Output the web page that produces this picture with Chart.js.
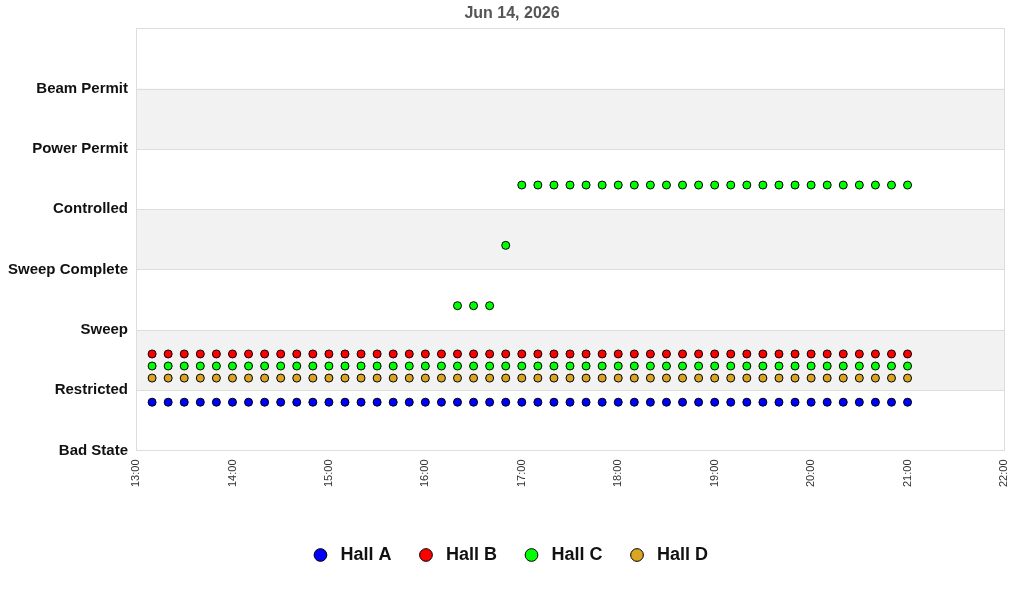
<!DOCTYPE html>
<html>
<head>
<meta charset="utf-8">
<script src="https://cdn.jsdelivr.net/npm/chart.js@4/dist/chart.umd.min.js"></script>
<style>
  html, body { margin: 0; padding: 0; background: #fff; }
  #wrap { width: 1024px; height: 600px; }
</style>
</head>
<body>
<div id="wrap"><canvas id="chart"></canvas></div>
<script>
// state names on the y axis (index = value)
const stateLabels = ["Bad State", "Restricted", "Sweep", "Sweep Complete", "Controlled", "Power Permit", "Beam Permit", ""];

// sample times (every 10 minutes)
const times = [
  "13:10", "13:20", "13:30", "13:40", "13:50", "14:00",
  "14:10", "14:20", "14:30", "14:40", "14:50", "15:00",
  "15:10", "15:20", "15:30", "15:40", "15:50", "16:00",
  "16:10", "16:20", "16:30", "16:40", "16:50", "17:00",
  "17:10", "17:20", "17:30", "17:40", "17:50", "18:00",
  "18:10", "18:20", "18:30", "18:40", "18:50", "19:00",
  "19:10", "19:20", "19:30", "19:40", "19:50", "20:00",
  "20:10", "20:20", "20:30", "20:40", "20:50", "21:00"
];

const hallA = [
  0.8, 0.8, 0.8, 0.8, 0.8, 0.8, 0.8, 0.8, 0.8, 0.8, 0.8, 0.8,
  0.8, 0.8, 0.8, 0.8, 0.8, 0.8, 0.8, 0.8, 0.8, 0.8, 0.8, 0.8,
  0.8, 0.8, 0.8, 0.8, 0.8, 0.8, 0.8, 0.8, 0.8, 0.8, 0.8, 0.8,
  0.8, 0.8, 0.8, 0.8, 0.8, 0.8, 0.8, 0.8, 0.8, 0.8, 0.8, 0.8
];
const hallB = [
  1.6, 1.6, 1.6, 1.6, 1.6, 1.6, 1.6, 1.6, 1.6, 1.6, 1.6, 1.6,
  1.6, 1.6, 1.6, 1.6, 1.6, 1.6, 1.6, 1.6, 1.6, 1.6, 1.6, 1.6,
  1.6, 1.6, 1.6, 1.6, 1.6, 1.6, 1.6, 1.6, 1.6, 1.6, 1.6, 1.6,
  1.6, 1.6, 1.6, 1.6, 1.6, 1.6, 1.6, 1.6, 1.6, 1.6, 1.6, 1.6
];
const hallC = [
  1.4, 1.4, 1.4, 1.4, 1.4, 1.4, 1.4, 1.4, 1.4, 1.4, 1.4, 1.4,
  1.4, 1.4, 1.4, 1.4, 1.4, 1.4, 1.4, 1.4, 1.4, 1.4, 1.4, 1.4,
  1.4, 1.4, 1.4, 1.4, 1.4, 1.4, 1.4, 1.4, 1.4, 1.4, 1.4, 1.4,
  1.4, 1.4, 1.4, 1.4, 1.4, 1.4, 1.4, 1.4, 1.4, 1.4, 1.4, 1.4
];
const hallD = [
  1.2, 1.2, 1.2, 1.2, 1.2, 1.2, 1.2, 1.2, 1.2, 1.2, 1.2, 1.2,
  1.2, 1.2, 1.2, 1.2, 1.2, 1.2, 1.2, 1.2, 1.2, 1.2, 1.2, 1.2,
  1.2, 1.2, 1.2, 1.2, 1.2, 1.2, 1.2, 1.2, 1.2, 1.2, 1.2, 1.2,
  1.2, 1.2, 1.2, 1.2, 1.2, 1.2, 1.2, 1.2, 1.2, 1.2, 1.2, 1.2
];

// second Hall C trace (sweep -> controlled)
const hallCUpperTimes = [
  "16:20", "16:30", "16:40", "16:50", "17:00",
  "17:10", "17:20", "17:30", "17:40", "17:50", "18:00",
  "18:10", "18:20", "18:30", "18:40", "18:50", "19:00",
  "19:10", "19:20", "19:30", "19:40", "19:50", "20:00",
  "20:10", "20:20", "20:30", "20:40", "20:50", "21:00"
];
const hallCUpper = [
  2.4, 2.4, 2.4, 3.4, 4.4,
  4.4, 4.4, 4.4, 4.4, 4.4, 4.4,
  4.4, 4.4, 4.4, 4.4, 4.4, 4.4,
  4.4, 4.4, 4.4, 4.4, 4.4, 4.4,
  4.4, 4.4, 4.4, 4.4, 4.4, 4.4
];

const xTicks = ["13:00", "14:00", "15:00", "16:00", "17:00", "18:00", "19:00", "20:00", "21:00", "22:00"];

function toMin(t) {
  let p = t.split(":");
  return parseInt(p[0]) * 60 + parseInt(p[1]);
}
function pts(tt, vals) {
  return tt.map((t, i) => ({ x: toMin(t), y: vals[i] }));
}
function fmt(m) {
  let h = Math.floor(m / 60);
  let mm = m % 60;
  return h + ":" + (mm < 10 ? "0" + mm : mm);
}

// gray bands + grid + border
const bands = {
  id: "bands",
  afterLayout(chart) {
    // let the long y labels run into the left padding
    chart.scales.y.left = 0;
  },
  beforeDatasetsDraw(chart) {
    let ctx = chart.ctx;
    let a = chart.chartArea;
    let y = chart.scales.y;
    ctx.save();
    ctx.fillStyle = "#f2f2f2";
    [[1, 2], [3, 4], [5, 6]].forEach((b) => {
      let top = y.getPixelForValue(b[1]);
      let bot = y.getPixelForValue(b[0]);
      ctx.fillRect(a.left, top, a.right - a.left, bot - top);
    });
    ctx.strokeStyle = "#dddddd";
    ctx.lineWidth = 1;
    for (let v = 0; v <= 7; v++) {
      let py = Math.round(y.getPixelForValue(v)) + 0.5;
      ctx.beginPath();
      ctx.moveTo(a.left, py);
      ctx.lineTo(a.right, py);
      ctx.stroke();
    }
    ctx.strokeRect(Math.round(a.left) + 0.5, Math.round(a.top) + 0.5, Math.round(a.right - a.left), Math.round(a.bottom - a.top));
    ctx.restore();
  }
};

function ds(label, color, data, hidden) {
  return {
    label: label,
    data: data,
    showLine: false,
    pointStyle: "circle",
    pointRadius: 4,
    pointHoverRadius: 4,
    backgroundColor: color,
    borderColor: "#000",
    borderWidth: 1,
    inLegend: !hidden
  };
}

new Chart(document.getElementById("chart"), {
  type: "scatter",
  data: {
    datasets: [
      ds("Hall A", "#0000ff", pts(times, hallA)),
      ds("Hall B", "#ff0000", pts(times, hallB)),
      ds("Hall C", "#00ff00", pts(times, hallC)),
      ds("Hall D", "#daa520", pts(times, hallD)),
      ds("Hall C ", "#00ff00", pts(hallCUpperTimes, hallCUpper), true)
    ]
  },
  options: {
    responsive: true,
    maintainAspectRatio: false,
    animation: false,
    layout: { padding: { left: 20, right: 20, top: 0, bottom: 26 } },
    plugins: {
      title: {
        display: true,
        text: "Jun 14, 2026",
        color: "#555",
        font: { family: "Liberation Sans, Arial", size: 16, weight: "bold" },
        padding: { top: 4, bottom: 5 }
      },
      legend: {
        position: "bottom",
        labels: {
          filter: (item, data) => data.datasets[item.datasetIndex].inLegend,
          generateLabels: (chart) => {
            let items = Chart.defaults.plugins.legend.labels.generateLabels(chart);
            items.forEach((it) => { it.text = " \u200A" + it.text; });
            return items;
          },
          usePointStyle: true,
          boxWidth: 9,
          boxHeight: 9,
          padding: 30,
          color: "#111",
          font: { family: "Liberation Sans, Arial", size: 18, weight: "bold" }
        }
      },
      tooltip: { enabled: false }
    },
    scales: {
      x: {
        type: "linear",
        min: toMin(xTicks[0]),
        max: toMin(xTicks[xTicks.length - 1]),
        afterBuildTicks: (axis) => {
          axis.ticks = xTicks.map((t) => ({ value: toMin(t) }));
        },
        afterFit: (axis) => {
          axis.height += 20;
          axis.paddingLeft = 0;
          axis.paddingRight = 0;
        },
        grid: { display: false, drawTicks: false },
        border: { display: false },
        ticks: {
          minRotation: 90,
          maxRotation: 90,
          padding: 9,
          color: "#333",
          font: { family: "Liberation Sans, Arial", size: 11 },
          callback: (v) => fmt(v)
        }
      },
      y: {
        min: 0,
        max: 7,
        afterFit: (axis) => { axis.width -= 20; },
        grid: { display: false, drawTicks: false },
        border: { display: false },
        ticks: {
          stepSize: 1,
          padding: 8,
          color: "#111",
          font: { family: "Liberation Sans, Arial", size: 15, weight: "bold" },
          callback: (v) => stateLabels[v]
        }
      }
    }
  },
  plugins: [bands]
});
</script>
</body>
</html>
